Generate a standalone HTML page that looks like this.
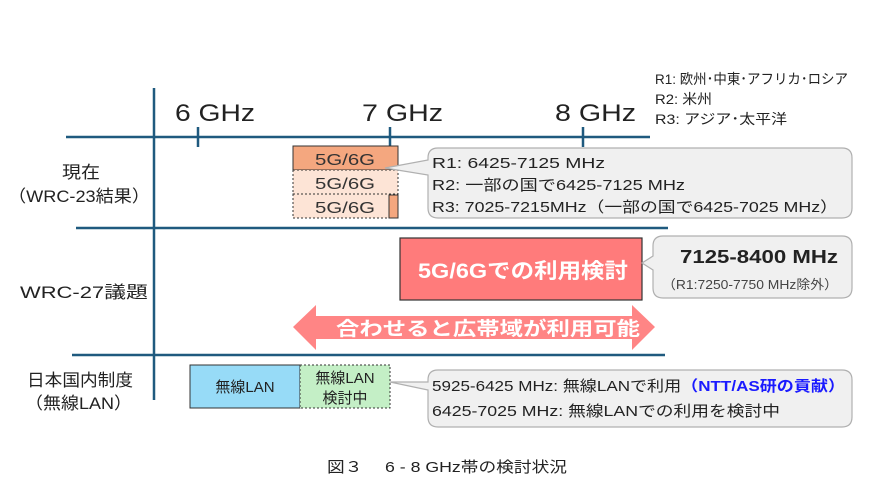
<!DOCTYPE html>
<html><head><meta charset="utf-8"><style>
body{margin:0;background:#fff}
svg{display:block}
text{font-family:"Liberation Sans","Noto Sans CJK JP",sans-serif}
</style></head><body>
<svg width="890" height="500" viewBox="0 0 890 500">
<g stroke="#1f5a7f" stroke-width="2.5" fill="none">
<line x1="154" y1="88" x2="154" y2="400"/>
<line x1="66" y1="137" x2="650" y2="137"/>
<line x1="76" y1="228" x2="668" y2="228"/>
<line x1="72" y1="355" x2="665" y2="355"/>
<line x1="198" y1="127" x2="198" y2="147"/>
<line x1="390" y1="127" x2="390" y2="147"/>
<line x1="583" y1="127" x2="583" y2="147"/>
</g>
<g font-size="24" fill="#222" lengthAdjust="spacingAndGlyphs">
<text x="175" y="121" textLength="80" lengthAdjust="spacingAndGlyphs">6 GHz</text>
<text x="362" y="121" textLength="81" lengthAdjust="spacingAndGlyphs">7 GHz</text>
<text x="555" y="121" textLength="81" lengthAdjust="spacingAndGlyphs">8 GHz</text>
</g>
<g font-size="14" fill="#222">
<text x="655" y="84" textLength="193" lengthAdjust="spacingAndGlyphs">R1: 欧州･中東･アフリカ･ロシア</text>
<text x="655" y="104" textLength="57" lengthAdjust="spacingAndGlyphs">R2: 米州</text>
<text x="655" y="124" textLength="132" lengthAdjust="spacingAndGlyphs">R3: アジア･太平洋</text>
</g>
<g font-size="17" fill="#222">
<text x="62" y="178" textLength="38" lengthAdjust="spacingAndGlyphs">現在</text>
<text x="8" y="202" textLength="142" lengthAdjust="spacingAndGlyphs">（WRC-23結果）</text>
<text x="20" y="298" textLength="128" lengthAdjust="spacingAndGlyphs">WRC-27議題</text>
<text x="27" y="386" textLength="106" lengthAdjust="spacingAndGlyphs">日本国内制度</text>
<text x="25" y="409" textLength="107" lengthAdjust="spacingAndGlyphs">（無線LAN）</text>
</g>
<rect x="293" y="146" width="105" height="24" fill="#f4a77f" stroke="#333" stroke-width="1"/>
<rect x="293" y="170" width="105" height="24" fill="#fde4d6" stroke="#333" stroke-width="1" stroke-dasharray="2,2"/>
<rect x="293" y="194" width="105" height="24" fill="#fde4d6" stroke="#333" stroke-width="1" stroke-dasharray="2,2"/>
<rect x="389" y="195" width="9" height="23" fill="#f4a77f" stroke="#333" stroke-width="1"/>
<g font-size="16" fill="#333">
<text x="315" y="165" textLength="60" lengthAdjust="spacingAndGlyphs">5G/6G</text>
<text x="315" y="189" textLength="60" lengthAdjust="spacingAndGlyphs">5G/6G</text>
<text x="315" y="213" textLength="60" lengthAdjust="spacingAndGlyphs">5G/6G</text>
</g>
<path d="M438,148 H842 Q852,148 852,158 V208 Q852,218 842,218 H438 Q428,218 428,208 V175 L385,168 L428,160 V158 Q428,148 438,148 Z" fill="#f0f0f0" stroke="#b0b0b0" stroke-width="1.2"/>
<g font-size="15" fill="#222">
<text x="432" y="168" textLength="173" lengthAdjust="spacingAndGlyphs">R1: 6425-7125 MHz</text>
<text x="432" y="190" textLength="253" lengthAdjust="spacingAndGlyphs">R2: 一部の国で6425-7125 MHz</text>
<text x="432" y="212" textLength="406" lengthAdjust="spacingAndGlyphs">R3: 7025-7215MHz（一部の国で6425-7025 MHz）</text>
</g>
<rect x="400" y="238" width="242" height="62" fill="#ff7b7b" stroke="#333" stroke-width="1.2"/>
<text x="418" y="278" font-size="21" fill="#fff" font-weight="bold" textLength="210" lengthAdjust="spacingAndGlyphs">5G/6Gでの利用検討</text>
<path d="M663,236 H842 Q852,236 852,246 V288 Q852,298 842,298 H663 Q653,298 653,288 V270 L642,263 L653,256 V246 Q653,236 663,236 Z" fill="#f0f0f0" stroke="#b0b0b0" stroke-width="1.2"/>
<text x="680" y="263" font-size="18" font-weight="bold" fill="#222" textLength="158" lengthAdjust="spacingAndGlyphs">7125-8400 MHz</text>
<text x="662" y="289" font-size="13" fill="#444" textLength="176" lengthAdjust="spacingAndGlyphs">（R1:7250-7750 MHz除外）</text>
<path d="M293,327 L316,305 V316 H632 V305 L655,327 L632,350 V339 H316 V350 Z" fill="#ff8585"/>
<text x="336" y="335" font-size="19" font-weight="bold" fill="#fff" textLength="304" lengthAdjust="spacingAndGlyphs">合わせると広帯域が利用可能</text>
<rect x="190" y="365" width="110" height="43" fill="#97dbf7" stroke="#333" stroke-width="1"/>
<rect x="300" y="365" width="90" height="43" fill="#c4efc6" stroke="#333" stroke-width="1" stroke-dasharray="2,2"/>
<text x="245" y="392" font-size="15" fill="#222" text-anchor="middle">無線LAN</text>
<text x="345" y="383" font-size="15" fill="#222" text-anchor="middle">無線LAN</text>
<text x="345" y="403" font-size="15" fill="#222" text-anchor="middle">検討中</text>
<path d="M438,370 H842 Q852,370 852,380 V417 Q852,427 842,427 H438 Q428,427 428,417 V390 L390,382 L428,382 V380 Q428,370 438,370 Z" fill="#f0f0f0" stroke="#b0b0b0" stroke-width="1.2"/>
<g font-size="15" fill="#222">
<text x="432" y="391" textLength="413" lengthAdjust="spacingAndGlyphs">5925-6425 MHz: 無線LANで利用<tspan fill="#1a1aff" font-weight="bold">（NTT/AS研の貢献）</tspan></text>
<text x="432" y="416" textLength="348" lengthAdjust="spacingAndGlyphs">6425-7025 MHz: 無線LANでの利用を検討中</text>
</g>
<text x="327" y="472" font-size="15" fill="#222" textLength="240" lengthAdjust="spacingAndGlyphs">図３　 6 - 8 GHz帯の検討状況</text>
</svg>
</body></html>
